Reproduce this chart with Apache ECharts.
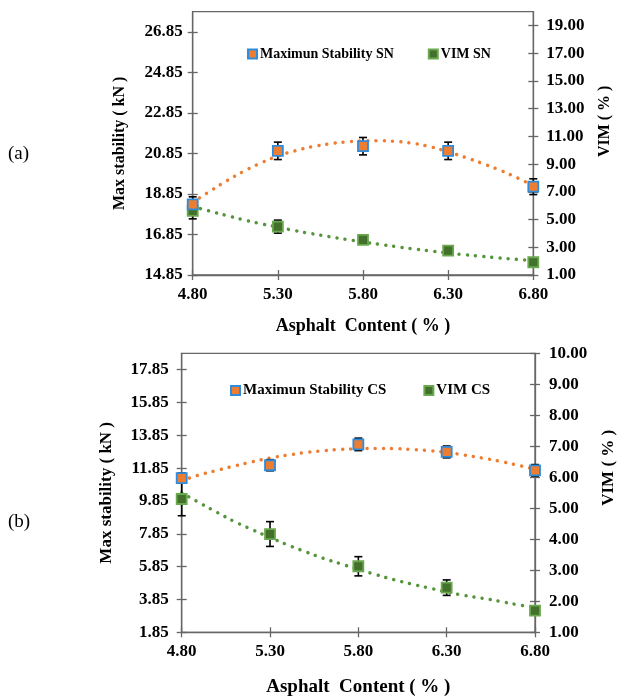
<!DOCTYPE html>
<html><head><meta charset="utf-8">
<script src="https://cdn.jsdelivr.net/npm/echarts@6/dist/echarts.min.js"></script>
<style>html,body{margin:0;padding:0;background:#fff}#c{width:625px;height:698px}</style>
</head><body><div id="c"></div>
<script>
// ---- data ----
const asphalt = [4.8, 5.3, 5.8, 6.3, 6.8];
const xTicks = [4.8, 5.3, 5.8, 6.3, 6.8];

// (a) SN
const snStability = [18.34, 20.98, 21.21, 20.98, 19.21];
const snStabilityErr = [0.37, 0.43, 0.43, 0.43, 0.39];
const snVim = [5.63, 4.49, 3.53, 2.76, 1.92];
const snVimErr = [0.58, 0.47, 0.18, 0.12, 0.12];
const snLeftTicks = [14.85, 16.85, 18.85, 20.85, 22.85, 24.85, 26.85];
const snRightTicks = [1, 3, 5, 7, 9, 11, 13, 15, 17, 19];

// (b) CS
const csStability = [11.25, 12.03, 13.30, 12.84, 11.72];
const csStabilityErr = [0.30, 0.34, 0.38, 0.36, 0.35];
const csVim = [5.30, 4.17, 3.13, 2.44, 1.70];
const csVimErr = [0.54, 0.40, 0.31, 0.25, 0.10];
const csLeftTicks = [1.85, 3.85, 5.85, 7.85, 9.85, 11.85, 13.85, 15.85, 17.85];
const csRightTicks = [1, 2, 3, 4, 5, 6, 7, 8, 9, 10];

// dotted trend lines
const trendX = [4.8, 4.9, 5.0, 5.1, 5.2, 5.3, 5.4, 5.5, 5.6, 5.7, 5.8, 5.9, 6.0, 6.1, 6.2, 6.3, 6.4, 6.5, 6.6, 6.7, 6.8];
const snStabTrend = [18.44, 18.98, 19.50, 19.97, 20.38, 20.72, 20.98, 21.18, 21.32, 21.42, 21.47, 21.48, 21.44, 21.34, 21.17, 20.93, 20.66, 20.36, 20.04, 19.67, 19.26];
const snVimTrend = [5.94, 5.61, 5.29, 4.98, 4.70, 4.45, 4.20, 3.98, 3.77, 3.57, 3.38, 3.21, 3.04, 2.88, 2.73, 2.59, 2.46, 2.34, 2.23, 2.13, 2.04];
const csStabTrend = [11.10, 11.44, 11.72, 11.99, 12.24, 12.47, 12.65, 12.80, 12.91, 12.99, 13.03, 13.05, 13.04, 12.99, 12.92, 12.81, 12.65, 12.47, 12.27, 12.04, 11.78];
const csVimTrend = [5.50, 5.18, 4.87, 4.57, 4.31, 4.06, 3.82, 3.60, 3.39, 3.21, 3.03, 2.86, 2.70, 2.56, 2.43, 2.30, 2.19, 2.10, 2.00, 1.89, 1.80];

// ---- styling ----
const FONT = "'Liberation Serif','Times New Roman',serif";
const AX = '#666666';
const ORANGE = '#ED7D31', BLUE = '#2F8BDB', GFILL = '#43702A', GEDGE = '#6AA84F', GDOT = '#55953A';
const TICKFS = 17;

function pairs(xs, ys) { return xs.map((x, i) => [x, ys[i]]); }
function errData(xs, ys, es) { return xs.map((x, i) => [x, ys[i], es[i]]); }

function xAxesFor(g, nameSize, nameGap) {
  const base = { type: 'value', gridIndex: g, min: 4.8, max: 6.8, position: 'bottom', splitLine: { show: false } };
  return [
    Object.assign({}, base, {
      name: 'Asphalt  Content ( % )', nameLocation: 'middle', nameGap: nameGap,
      nameTextStyle: { fontFamily: FONT, fontWeight: 'bold', fontSize: nameSize, color: '#000' },
      axisLine: { lineStyle: { color: AX, width: 1.3 } },
      axisTick: { show: true, customValues: xTicks, length: 5, lineStyle: { color: AX, width: 1.3 } },
      axisLabel: { customValues: xTicks, formatter: v => v.toFixed(2), margin: 11, fontFamily: FONT, fontWeight: 'bold', fontSize: TICKFS, color: '#000' }
    }),
    Object.assign({}, base, {
      axisLine: { show: false },
      axisTick: { show: true, inside: true, customValues: xTicks, length: 5, lineStyle: { color: AX, width: 1.3 } },
      axisLabel: { show: false }
    })
  ];
}

function yAxesFor(g, lmin, lmax, lticks, rmin, rmax, rticks, lNameSize, lGap, lMargin, rNameSize, rGap, rMargin, rShift) {
  const tickStyle = { color: AX, width: 1.3 };
  const lab = (m) => ({ formatter: v => v.toFixed(2), margin: m, fontFamily: FONT, fontWeight: 'bold', fontSize: TICKFS, color: '#000' });
  return [
    { type: 'value', gridIndex: g, position: 'left', min: lmin, max: lmax, splitLine: { show: false },
      name: 'Max stability ( kN )', nameLocation: 'middle', nameGap: lGap, nameRotate: 90,
      nameTextStyle: { fontFamily: FONT, fontWeight: 'bold', fontSize: lNameSize, color: '#000' },
      axisLine: { show: true, lineStyle: tickStyle },
      axisTick: { show: true, customValues: lticks, length: 5, lineStyle: tickStyle },
      axisLabel: Object.assign({ customValues: lticks }, lab(lMargin)) },
    { type: 'value', gridIndex: g, position: 'left', min: lmin, max: lmax, splitLine: { show: false },
      axisLine: { show: false },
      axisTick: { show: true, inside: true, customValues: lticks, length: 5, lineStyle: tickStyle },
      axisLabel: { show: false } },
    { type: 'value', gridIndex: g, position: 'right', min: rmin, max: rmax, splitLine: { show: false },
      name: 'VIM ( % )', nameLocation: 'middle', nameGap: rGap, nameRotate: 90,
      nameTextStyle: { fontFamily: FONT, fontWeight: 'bold', fontSize: rNameSize, color: '#000', padding: [0, 0, 0, rShift] },
      axisLine: { show: true, lineStyle: tickStyle },
      axisTick: { show: true, customValues: rticks, length: 5, lineStyle: tickStyle },
      axisLabel: Object.assign({ customValues: rticks }, lab(rMargin)) },
    { type: 'value', gridIndex: g, position: 'right', min: rmin, max: rmax, splitLine: { show: false },
      axisLine: { show: false },
      axisTick: { show: true, inside: true, customValues: rticks, length: 5, lineStyle: tickStyle },
      axisLabel: { show: false } }
  ];
}

function errSeries(xi, yi, data) {
  return {
    type: 'custom', xAxisIndex: xi, yAxisIndex: yi, z: 3, silent: true,
    encode: { x: 0, y: 1 },
    renderItem: function (params, api) {
      const x = api.value(0), y = api.value(1), e = api.value(2);
      const hi = api.coord([x, y + e]), lo = api.coord([x, y - e]);
      const w = 4;
      const st = { stroke: '#000', lineWidth: 1.6 };
      return { type: 'group', children: [
        { type: 'line', shape: { x1: hi[0], y1: hi[1], x2: lo[0], y2: lo[1] }, style: st },
        { type: 'line', shape: { x1: hi[0] - w, y1: hi[1], x2: hi[0] + w, y2: hi[1] }, style: st },
        { type: 'line', shape: { x1: lo[0] - w, y1: lo[1], x2: lo[0] + w, y2: lo[1] }, style: st }
      ] };
    },
    data: data
  };
}

function trendSeries(xi, yi, data, color) {
  return { type: 'line', xAxisIndex: xi, yAxisIndex: yi, data: data, smooth: true, showSymbol: false, silent: true, z: 2,
    lineStyle: { color: color, width: 3.5, type: [0.01, 8.2], cap: 'round' } };
}

function stabSeries(name, xi, yi, data) {
  return { type: 'scatter', name: name, xAxisIndex: xi, yAxisIndex: yi, data: data, symbol: 'rect', symbolSize: 10, z: 5,
    itemStyle: { color: ORANGE, borderColor: BLUE, borderWidth: 1.8, opacity: 1 } };
}
function vimSeries(name, xi, yi, data) {
  return { type: 'scatter', name: name, xAxisIndex: xi, yAxisIndex: yi, data: data, symbol: 'rect', symbolSize: 10, z: 5,
    itemStyle: { color: GFILL, borderColor: GEDGE, borderWidth: 1.8, opacity: 1 } };
}

const xAxis = [].concat(xAxesFor(0, 18, 42), xAxesFor(1, 19, 45));
const yAxis = [].concat(
  yAxesFor(0, 14.85, 27.85, snLeftTicks, 1, 20, snRightTicks, 16, 65, 10, 16, 64, 13, 44),
  yAxesFor(1, 1.85, 18.85, csLeftTicks, 1, 10, csRightTicks, 17, 67, 13, 17, 65, 14, 50)
);

const series = [
  trendSeries(0, 0, pairs(trendX, snStabTrend), ORANGE),
  trendSeries(0, 2, pairs(trendX, snVimTrend), GDOT),
  errSeries(0, 0, errData(asphalt, snStability, snStabilityErr)),
  errSeries(0, 2, errData(asphalt, snVim, snVimErr)),
  vimSeries('VIM SN', 0, 2, pairs(asphalt, snVim)),
  stabSeries('Maximun Stability SN', 0, 0, pairs(asphalt, snStability)),

  trendSeries(2, 4, pairs(trendX, csStabTrend), ORANGE),
  trendSeries(2, 6, pairs(trendX, csVimTrend), GDOT),
  errSeries(2, 4, errData(asphalt, csStability, csStabilityErr)),
  errSeries(2, 6, errData(asphalt, csVim, csVimErr)),
  vimSeries('VIM CS', 2, 6, pairs(asphalt, csVim)),
  stabSeries('Maximun Stability CS', 2, 4, pairs(asphalt, csStability))
];

const chart = echarts.init(document.getElementById('c'), null, { renderer: 'canvas' });
chart.setOption({
  animation: false,
  backgroundColor: '#fff',
  grid: [
    { left: 192.7, top: 11.7, width: 340.6, height: 263.3, show: true, borderColor: AX, borderWidth: 1.3, containLabel: false },
    { left: 181.7, top: 353.3, width: 361, height: 279, show: true, borderColor: AX, borderWidth: 1.3, containLabel: false }
  ],
  legend: [
    { data: ['Maximun Stability SN', 'VIM SN'], left: 247, top: 47, padding: 0, itemGap: 34, itemWidth: 9, itemHeight: 9,
      textStyle: { fontFamily: FONT, fontWeight: 'bold', fontSize: 14, color: '#000', padding: [0, 0, 0, -2] }, selectedMode: false },
    { data: ['Maximun Stability CS', 'VIM CS'], left: 230, top: 383, padding: 0, itemGap: 37, itemWidth: 9, itemHeight: 9,
      textStyle: { fontFamily: FONT, fontWeight: 'bold', fontSize: 15, color: '#000', padding: [0, 0, 0, -2] }, selectedMode: false }
  ],
  graphic: [
    { type: 'text', left: 8, top: 145, style: { text: '(a)', font: "19px " + FONT, fill: '#000' } },
    { type: 'text', left: 8, top: 513, style: { text: '(b)', font: "19px " + FONT, fill: '#000' } }
  ],
  xAxis: xAxis,
  yAxis: yAxis,
  series: series
});
</script>
</body></html>
